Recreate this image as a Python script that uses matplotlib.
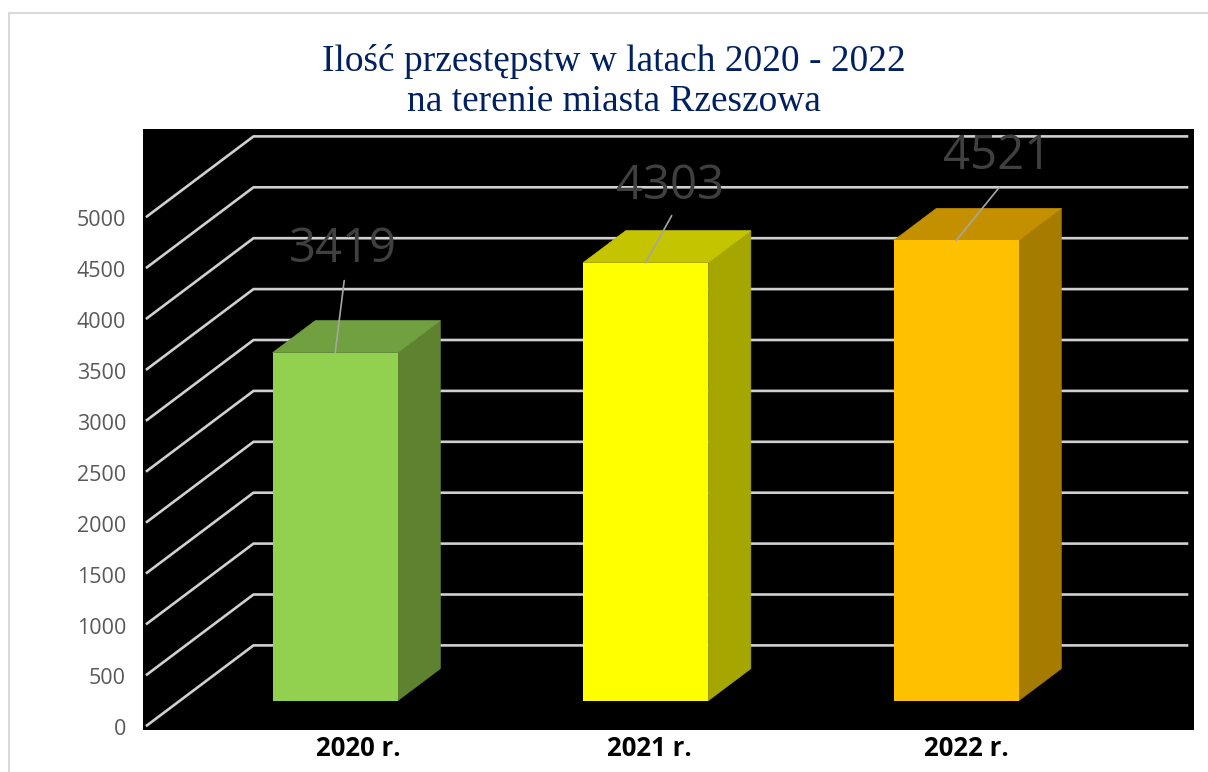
import matplotlib
matplotlib.use("Agg")
import matplotlib.pyplot as plt
from matplotlib.lines import Line2D
from matplotlib.transforms import ScaledTranslation

# Chart data
years = ["2020 r.", "2021 r.", "2022 r."]
crimes = [3419, 4303, 4521]
y_ticks = [0, 500, 1000, 1500, 2000, 2500, 3000, 3500, 4000, 4500, 5000]
title = "Ilość przestępstw w latach 2020 - 2022\nna terenie miasta Rzeszowa"

# Bar colours: front, side, top
front_colors = ["#92D050", "#FFFF00", "#FFC000"]
side_colors = ["#5F8231", "#A6A600", "#A67C00"]
top_colors = ["#70A040", "#C4C400", "#C49000"]

W, H = 1208, 772
X0, Y0 = 302.3, 725.4            # pixel position of category 0, value 0 at depth 0
PX_PER_CAT = 310.5
PX_PER_VAL = 0.1018
DEPTH_X = 106.5 / PX_PER_CAT     # data shift of the back wall
DEPTH_Y = 80 / PX_PER_VAL
PT = 0.72                        # one pixel in points at dpi 100


def project(x, v, depth):
    # Oblique projection: depth 0 is the front of the floor, 1 the back wall
    return x + depth * DEPTH_X, v + depth * DEPTH_Y


fig = plt.figure(figsize=(W / 100, H / 100), dpi=100, facecolor="white")

# Black plot area
left, right, top, bottom = 143, 1194, 129, 730
ax = fig.add_axes([left / W, 1 - bottom / H, (right - left) / W, (bottom - top) / H])
ax.set_facecolor("black")
ax.set_xlim((left - X0) / PX_PER_CAT, (right - X0) / PX_PER_CAT)
ax.set_ylim((Y0 - bottom) / PX_PER_VAL, (Y0 - top) / PX_PER_VAL)
for s in ax.spines.values():
    s.set_visible(False)

# Gridlines run along the side wall, then across the back wall
x_start = (147 - X0) / PX_PER_CAT
x_end = (1187 - X0) / PX_PER_CAT
for v in y_ticks:
    x_back, v_back = project(x_start, v, 1)
    ax.plot([x_start, x_back, x_end], [v, v_back, v_back],
            color="#D0D0D0", lw=1.9, zorder=1, solid_joinstyle="miter")

# Bars
half = 62.5 / PX_PER_CAT
d0, d1 = 0.309, 0.709
for i, val in enumerate(crimes):
    fl = project(i - half, 0, d0)
    fr = project(i + half, 0, d0)
    br = project(i + half, 0, d1)
    tfl = project(i - half, val, d0)
    tfr = project(i + half, val, d0)
    tbr = project(i + half, val, d1)
    tbl = project(i - half, val, d1)
    # thin same-colour edge so the gridlines do not show through the seams
    ax.fill(*zip(fr, br, tbr, tfr), color=side_colors[i], lw=0.5, zorder=2)
    ax.fill(*zip(tfl, tfr, tbr, tbl), color=top_colors[i], lw=0.5, zorder=2)
    ax.fill(*zip(fl, fr, tfr, tfl), color=front_colors[i], lw=0, zorder=3)

# Data labels with leader lines, offsets in pixels from the bar top
label_dx = [8, 24, 41]
label_dy = [103, 76, 84]
leader_dx = [9, 26, 43]
leader_dy = [72, 47, 53]
for i, val in enumerate(crimes):
    anchor = project(i, val, d0)
    ax.annotate("", xy=anchor,
                xytext=(leader_dx[i] * PT, leader_dy[i] * PT), textcoords="offset points",
                arrowprops=dict(arrowstyle="-", color="#A6A6A6", lw=1.2,
                                shrinkA=0, shrinkB=0), zorder=4)
    ax.annotate(str(val), xy=anchor,
                xytext=(label_dx[i] * PT, label_dy[i] * PT), textcoords="offset points",
                ha="center", va="center", color="#404040", fontsize=34,
                family="Open Sans", annotation_clip=False, zorder=5)

# Axis labels
ax.set_yticks(y_ticks)
ax.set_yticklabels([str(v) for v in y_ticks], family="Open Sans", fontsize=15.5, color="#595959")
ax.tick_params(axis="y", length=0, pad=17 * PT)
ax.set_xticks([])
nudge = ScaledTranslation(0, -2 / 100, fig.dpi_scale_trans)
for lab in ax.get_yticklabels():
    lab.set_transform(lab.get_transform() + nudge)

cat_dx = [56, 37, 43]
for i, lab in enumerate(years):
    ax.annotate(lab, xy=(i, (Y0 - 748) / PX_PER_VAL),
                xytext=(cat_dx[i] * PT, 0), textcoords="offset points",
                ha="center", va="center", family="Open Sans", fontweight="bold",
                fontsize=18.5, color="black", annotation_clip=False)

fig.text(614 / W, 1 - 44 / H, title, ha="center", va="top", family="Liberation Serif",
         fontsize=26.9, color="#002060", linespacing=1.2)

# Thin chart frame, open to the right and the bottom
fig.add_artist(Line2D([9 / W, 9 / W, 1], [0, 1 - 13 / H, 1 - 13 / H],
                      transform=fig.transFigure, color="#D9D9D9", lw=1.5))

fig.savefig("out.png", dpi=100, facecolor="white")
